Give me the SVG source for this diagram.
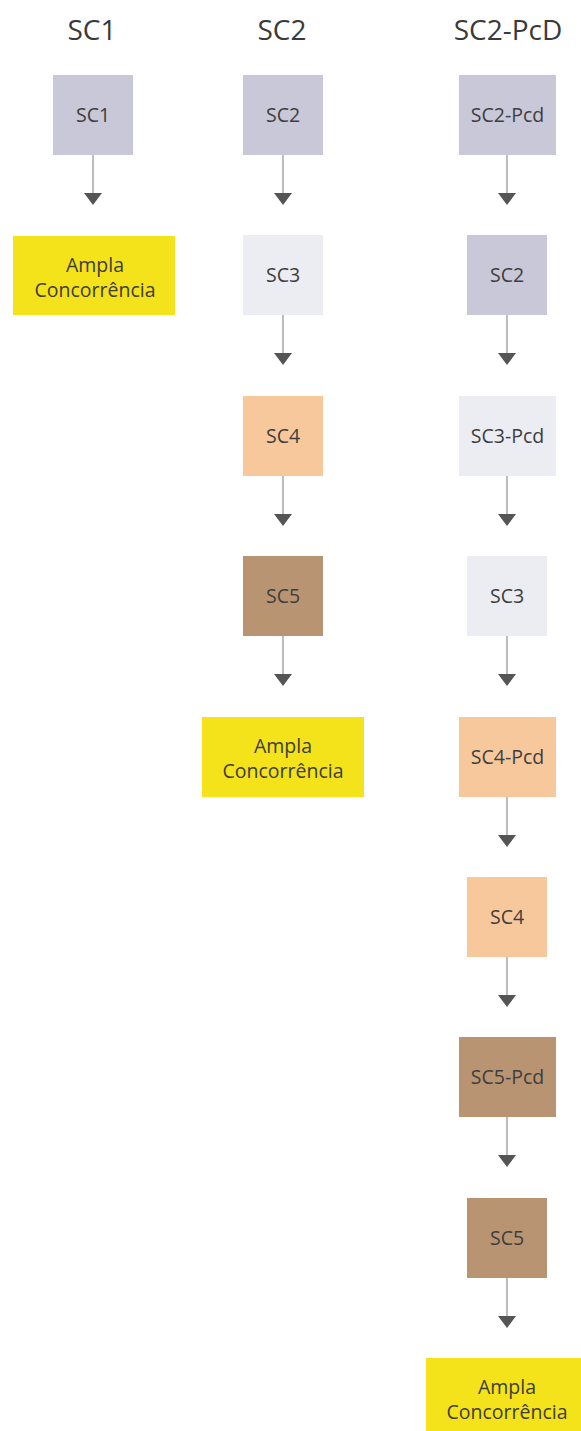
<svg xmlns="http://www.w3.org/2000/svg" width="581" height="1431" viewBox="0 0 581 1431">
<style>
.hdr{font-family:"Open Sans","Noto Sans",sans-serif;font-size:28px;fill:#3a3a3a;text-anchor:middle}
.lbl{font-family:"Open Sans","Noto Sans",sans-serif;font-size:19.5px;fill:#3e3e3e;text-anchor:middle}
.c1{fill:#c9c8d8}
.c3{fill:#ececf3}
.c4{fill:#f8c89d}
.c5{fill:#b99473}
.cy{fill:#f4e21a}
.ln{stroke:#9a9a9a;stroke-width:1.3;fill:none}
.ah{fill:#555555}
</style>
<rect width="581" height="1431" fill="#ffffff"/>
<g id="headers">
<text class="hdr" x="92" y="40">SC1</text>
<text class="hdr" x="282" y="40">SC2</text>
<text class="hdr" x="508" y="40">SC2-PcD</text>
</g>
<g id="col1-sc1"><rect class="c1" x="53" y="75" width="80" height="80"/><text class="lbl" x="93" y="122">SC1</text></g>
<g id="col1-ampla"><rect class="cy" x="13" y="236" width="162" height="79"/><text class="lbl" x="95" y="272">Ampla</text><text class="lbl" x="95" y="297">Concorrência</text></g>
<g id="col2-sc2"><rect class="c1" x="243" y="75" width="80" height="80"/><text class="lbl" x="283" y="122">SC2</text></g>
<g id="col2-sc3"><rect class="c3" x="243" y="235" width="80" height="80"/><text class="lbl" x="283" y="282">SC3</text></g>
<g id="col2-sc4"><rect class="c4" x="243" y="396" width="80" height="80"/><text class="lbl" x="283" y="443">SC4</text></g>
<g id="col2-sc5"><rect class="c5" x="243" y="556" width="80" height="80"/><text class="lbl" x="283" y="603">SC5</text></g>
<g id="col2-ampla"><rect class="cy" x="202" y="717" width="162" height="80"/><text class="lbl" x="283" y="753">Ampla</text><text class="lbl" x="283" y="778">Concorrência</text></g>
<g id="col3-sc2pcd"><rect class="c1" x="459" y="75" width="97" height="80"/><text class="lbl" x="507.5" y="122">SC2-Pcd</text></g>
<g id="col3-sc2"><rect class="c1" x="467" y="235" width="80" height="80"/><text class="lbl" x="507" y="282">SC2</text></g>
<g id="col3-sc3pcd"><rect class="c3" x="459" y="396" width="97" height="80"/><text class="lbl" x="507.5" y="443">SC3-Pcd</text></g>
<g id="col3-sc3"><rect class="c3" x="467" y="556" width="80" height="80"/><text class="lbl" x="507" y="603">SC3</text></g>
<g id="col3-sc4pcd"><rect class="c4" x="459" y="717" width="97" height="80"/><text class="lbl" x="507.5" y="764">SC4-Pcd</text></g>
<g id="col3-sc4"><rect class="c4" x="467" y="877" width="80" height="80"/><text class="lbl" x="507" y="924">SC4</text></g>
<g id="col3-sc5pcd"><rect class="c5" x="459" y="1037" width="97" height="80"/><text class="lbl" x="507.5" y="1084">SC5-Pcd</text></g>
<g id="col3-sc5"><rect class="c5" x="467" y="1198" width="80" height="80"/><text class="lbl" x="507" y="1245">SC5</text></g>
<g id="col3-ampla"><rect class="cy" x="426" y="1358" width="162" height="80"/><text class="lbl" x="507" y="1394">Ampla</text><text class="lbl" x="507" y="1419">Concorrência</text></g>
<g id="connectors">
<path class="ln" d="M93 155V193"/><polygon class="ah" points="84,193 102,193 93,205"/>
<path class="ln" d="M283 155V193"/><polygon class="ah" points="274,193 292,193 283,205"/>
<path class="ln" d="M283 315V353"/><polygon class="ah" points="274,353 292,353 283,365"/>
<path class="ln" d="M283 476V514"/><polygon class="ah" points="274,514 292,514 283,526"/>
<path class="ln" d="M283 636V674"/><polygon class="ah" points="274,674 292,674 283,686"/>
<path class="ln" d="M507 155V193"/><polygon class="ah" points="498,193 516,193 507,205"/>
<path class="ln" d="M507 315V353"/><polygon class="ah" points="498,353 516,353 507,365"/>
<path class="ln" d="M507 476V514"/><polygon class="ah" points="498,514 516,514 507,526"/>
<path class="ln" d="M507 636V674"/><polygon class="ah" points="498,674 516,674 507,686"/>
<path class="ln" d="M507 797V835"/><polygon class="ah" points="498,835 516,835 507,847"/>
<path class="ln" d="M507 957V995"/><polygon class="ah" points="498,995 516,995 507,1007"/>
<path class="ln" d="M507 1117V1155"/><polygon class="ah" points="498,1155 516,1155 507,1167"/>
<path class="ln" d="M507 1278V1316"/><polygon class="ah" points="498,1316 516,1316 507,1328"/>
</g>
</svg>
